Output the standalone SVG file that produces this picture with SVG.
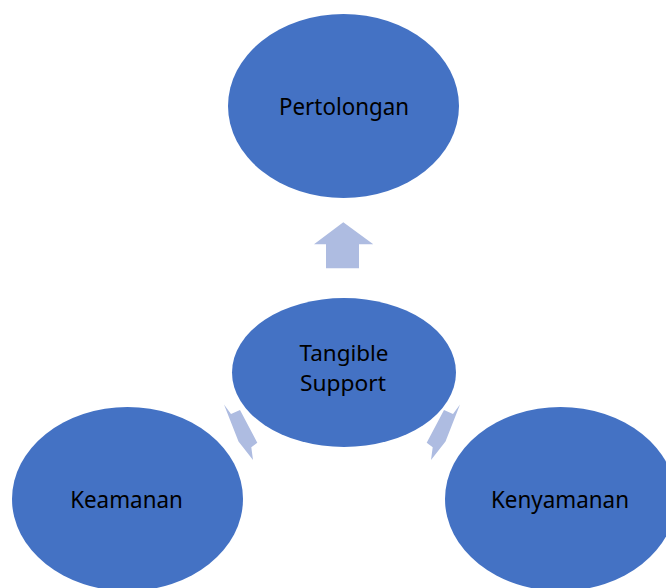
<svg xmlns="http://www.w3.org/2000/svg" width="666" height="588" viewBox="0 0 666 588">
<style>
.node{fill:#4472C4;}
.arrow{fill:#AEBCE1;}
.lbl{font-family:"Noto Sans","Open Sans","Liberation Sans",sans-serif;font-size:23px;fill:#000;text-anchor:middle;}
.sm{font-size:22px;}
</style>
<rect width="666" height="588" fill="#fff"/>
<g id="connectors">
<polygon class="arrow" points="343.3,222.3 373.3,244.3 359,244.3 359,268.3 326,268.3 326,244.3 314,244.3"/>
<polygon class="arrow" points="224,404.5 231,414 240,410 257.3,442.7 251.3,447.3 253,460 238.5,441.5"/>
<polygon class="arrow" points="460,404.5 453,414 444,410 426.7,442.7 432.7,447.3 431,460 445.5,441.5"/>
</g>
<g id="node-pertolongan">
<ellipse class="node" cx="343.5" cy="106" rx="115.5" ry="92"/>
<text class="lbl" x="344" y="114.5" textLength="130" lengthAdjust="spacingAndGlyphs">Pertolongan</text>
</g>
<g id="node-tangible">
<ellipse class="node" cx="344" cy="372.5" rx="112" ry="74.5"/>
<text class="lbl sm" x="344" y="361" textLength="89" lengthAdjust="spacingAndGlyphs">Tangible</text>
<text class="lbl sm" x="343" y="391" textLength="86" lengthAdjust="spacingAndGlyphs">Support</text>
</g>
<g id="node-keamanan">
<ellipse class="node" cx="127.5" cy="499" rx="115.5" ry="92"/>
<text class="lbl" x="126.5" y="507.5" textLength="112.7" lengthAdjust="spacingAndGlyphs">Keamanan</text>
</g>
<g id="node-kenyamanan">
<ellipse class="node" cx="560.5" cy="499" rx="115.5" ry="92"/>
<text class="lbl" x="560" y="507.5" textLength="138" lengthAdjust="spacingAndGlyphs">Kenyamanan</text>
</g>
</svg>
